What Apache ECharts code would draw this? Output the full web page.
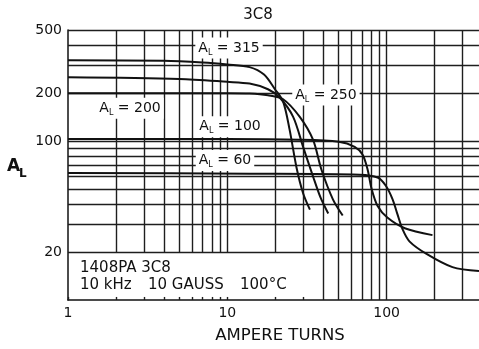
<!DOCTYPE html>
<html>
<head>
<meta charset="utf-8">
<script src="https://cdn.jsdelivr.net/npm/echarts@6/dist/echarts.min.js"></script>
<style>
  html, body { margin: 0; padding: 0; background: #fff; }
  #main { width: 479px; height: 349px; }
</style>
</head>
<body>
<div id="main"></div>
<script>
// A_L curves for 1408PA 3C8, [ampere turns, A_L]
const al315 = [[1, 322], [4, 320], [7, 312], [10, 303], [13.8, 292], [17, 262], [19.9, 212], [22.4, 177], [24.6, 118], [27.2, 68], [29.9, 47], [33, 37]];
const al250 = [[1, 252], [5, 246], [10, 236], [13.8, 230], [18, 212], [21.3, 188], [25.9, 142], [29.9, 92], [34.5, 60], [38.5, 44], [43, 35]];
const al200 = [[1, 200], [10, 200], [13.8, 199], [18, 194], [22.3, 184], [28.5, 142], [34.5, 102], [39, 66], [46, 43], [53, 34]];
const al100 = [[1, 103], [10, 103], [28.5, 102], [50, 99], [63, 92], [70.7, 82], [76, 66], [80.5, 50], [87.8, 39], [101, 33], [130, 28.3], [194, 25.6]];
const al60 = [[1, 63], [13.8, 62.4], [67.7, 61.5], [87.8, 59], [98.6, 52.5], [109, 43], [117, 34.6], [126, 27.8], [139, 23.4], [178, 19.5], [259, 16.1], [380, 15.2]];

// curve captions: [x, y, A_L]
const curveTags = [[10.25, 385, '315'], [41.6, 195, '250'], [2.45, 161, '200'], [10.4, 123, '100'], [9.67, 75.5, '60']];

const xGrid = [2, 3, 4, 5, 6, 7, 8, 9, 10, 20, 30, 40, 50, 60, 70, 80, 90, 100, 200, 300];
const yGrid = [20, 30, 40, 50, 60, 70, 80, 90, 100, 200, 300, 400, 499.9];
const xTicks = [1, 10, 100];
const yTicks = [20, 100, 200, 499.9];

const X_MAX = 380;
const font = 'DejaVu Sans';
const ink = '#111';

const tickLabel = (txt, dist) => ({
  show: true, formatter: txt, position: 'start', distance: dist,
  color: ink, fontFamily: font, fontSize: 14
});

const gridLines = [];
yGrid.forEach(v => {
  const item = [{ coord: [1, v] }, { coord: [X_MAX - 0.1, v] }];
  if (yTicks.includes(v)) item[0].label = tickLabel(String(Math.round(v)), 6);
  gridLines.push(item);
});
// left bottom corner holds the note, lines stop at 20 there
[1].concat(xGrid).forEach(v => {
  const lab = xTicks.includes(v) ? tickLabel(String(v), 6) : null;
  if (v < 35) {
    if (v > 1) gridLines.push([{ coord: [v, 20] }, { coord: [v, 499.9] }]);
    const t = [{ coord: [v, 10] }, { coord: [v, 10.45] }];
    if (lab) t[0].label = lab;
    gridLines.push(t);
  } else {
    const t = [{ coord: [v, 10] }, { coord: [v, 499.9] }];
    if (lab) t[0].label = lab;
    gridLines.push(t);
  }
});

const curves = [al315, al250, al200, al100, al60];

const myChart = echarts.init(document.getElementById('main'), null, { renderer: 'canvas' });

const txt = (x, y, s, size, extra) => ({
  type: 'text', x: x, y: y,
  style: Object.assign({
    text: s, fontFamily: font, fontSize: size, fill: ink,
    verticalAlign: 'middle', textVerticalAlign: 'middle'
  }, extra || {})
});

const option = {
  animation: false,
  backgroundColor: '#fff',
  grid: { left: 68, top: 30, width: 411, height: 270, outerBoundsMode: 'none', containLabel: false },
  xAxis: {
    type: 'log', logBase: 10, min: 1, max: X_MAX,
    axisLine: { show: true, lineStyle: { color: ink, width: 1.5 } },
    axisTick: { show: false }, axisLabel: { show: false }, splitLine: { show: false }
  },
  yAxis: {
    type: 'log', logBase: 10, min: 10, max: 500,
    axisLine: { show: true, lineStyle: { color: ink, width: 1.5 } },
    axisTick: { show: false }, axisLabel: { show: false }, splitLine: { show: false }
  },
  series: curves.map((c, i) => ({
    type: 'line',
    data: c,
    smooth: 0.3,
    symbol: 'none',
    silent: true,
    z: 10,
    lineStyle: { color: ink, width: 2 },
    markLine: i === 0 ? {
      silent: true,
      symbol: ['none', 'none'],
      label: { show: false },
      emphasis: { disabled: true },
      lineStyle: { color: '#1e1e1e', width: 1.4, type: 'solid' },
      data: gridLines
    } : undefined
  })).concat([{
    type: 'scatter',
    z: 12,
    silent: true,
    symbolSize: 0,
    itemStyle: { color: ink, opacity: 1 },
    data: curveTags.map(t => ({ value: [t[0], t[1]], tag: t[2] })),
    label: {
      show: true,
      position: 'inside',
      color: ink,
      textBorderWidth: 0,
      backgroundColor: '#fff',
      padding: [2, 3],
      formatter: p => '{a|A}{s|L}{a| = ' + p.data.tag + '}',
      rich: {
        a: { fontFamily: font, fontSize: 14, color: ink, textBorderWidth: 0 },
        s: { fontFamily: font, fontSize: 8, color: ink, textBorderWidth: 0, padding: [9, 0, 0, 0] }
      }
    }
  }]),
  graphic: [
    txt(258, 15, '3C8', 15, { align: 'center', textAlign: 'center' }),
    txt(7, 167, 'A', 17, { fontWeight: 'bold' }),
    txt(19, 174, 'L', 12, { fontWeight: 'bold' }),
    txt(80, 268, '1408PA 3C8', 15),
    txt(80, 285, '10 kHz', 15),
    txt(148, 285, '10 GAUSS', 15),
    txt(240, 285, '100°C', 15),
    txt(280, 336, 'AMPERE TURNS', 16.5, { align: 'center', textAlign: 'center' })
  ]
};

option && myChart.setOption(option);
</script>
</body>
</html>
